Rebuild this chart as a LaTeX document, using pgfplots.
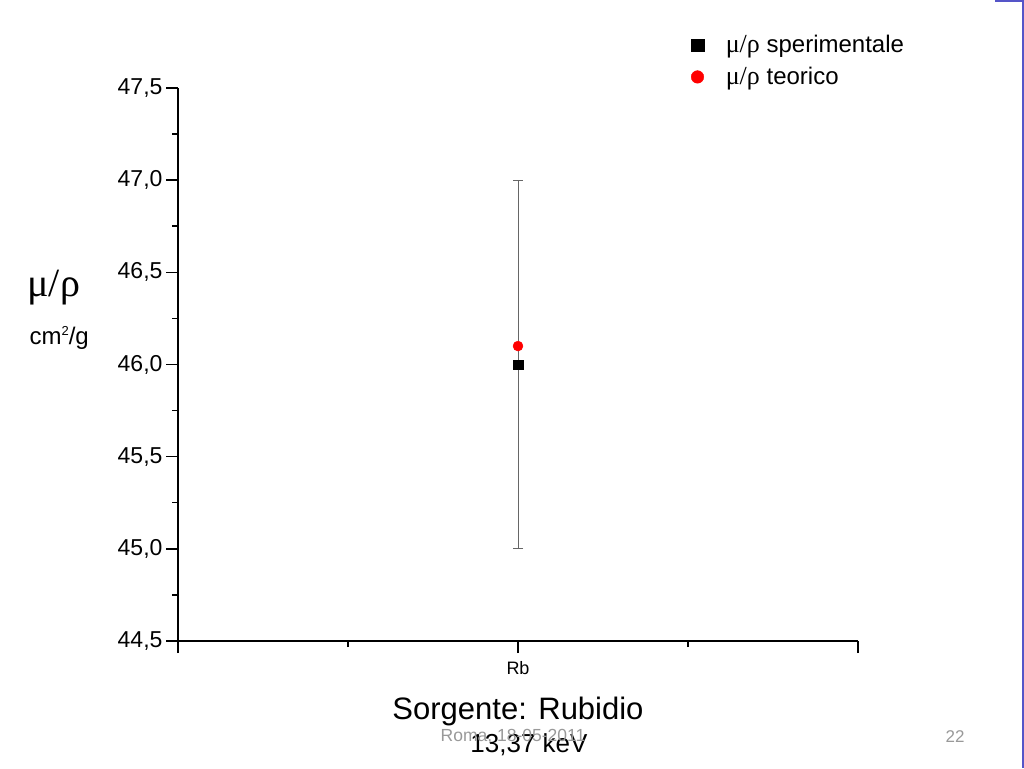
\documentclass[border=0pt]{standalone}
\usepackage{pgfplots}
\pgfplotsset{compat=1.18}
\usepackage{fontspec}
\setmainfont{Liberation Sans}
\newfontfamily\grk{Liberation Serif}
\definecolor{slideblue}{RGB}{85,85,200}
\begin{document}
\begin{tikzpicture}[x=1pt,y=1pt]
\useasboundingbox (0,0) rectangle (1024,768);
\fill[white] (0,0) rectangle (1024,768);
\begin{axis}[
  at={(178pt,127pt)}, anchor=south west,
  scale only axis, width=680pt, height=553pt,
  axis x line=bottom, axis y line=left,
  axis line style={-, line width=1.8pt},
  xmin=-2, xmax=2, ymin=44.5, ymax=47.5,
  xtick={-2,0,2}, xticklabels={{},Rb,{}},
  minor xtick={-1,1},
  ytick={44.5,45,...,47.5}, minor ytick={44.75,45.25,...,47.25},
  tick align=outside,
  major tick length=12pt, minor tick length=6pt,
  every tick/.style={black, line width=1.5pt},
  tick style={black, line width=1.5pt},
  /pgf/number format/assume math mode=true,
  /pgf/number format/use comma,
  /pgf/number format/fixed,
  /pgf/number format/fixed zerofill,
  /pgf/number format/precision=1,
  yticklabel style={font=\fontsize{23}{25}\selectfont, xshift=0pt},
  xticklabel style={font=\fontsize{18}{20}\selectfont, yshift=-5pt},
  clip=false,
  legend style={at={(688pt-178pt,768pt-127pt-61pt)}, anchor=west, draw=none, fill=none,
    font=\fontsize{24}{26}\selectfont, row sep=9pt,
    /tikz/every odd column/.append style={column sep=20pt}},
  legend cell align=left,
  legend image code/.code={\draw[#1, mark size=6.3pt] plot coordinates {(0cm,0cm)};},
]
\addplot[only marks, mark=square*, mark size=4.7pt, black,
  error bars/.cd, y dir=both, y explicit,
  error bar style={gray!80!black, line width=0.8pt},
  error mark options={rotate=90, mark size=5pt, gray!80!black, line width=0.8pt}]
  coordinates {(0,46.0) +- (0,1.0)};
\addlegendentry{{\grk\fontsize{26}{28}\selectfont μ/ρ} sperimentale}
\addplot[only marks, mark=*, mark size=5pt, red, draw=red, fill=red]
  coordinates {(0,46.1)};
\addlegendentry{{\grk\fontsize{26}{28}\selectfont μ/ρ} teorico}
\end{axis}
\node[anchor=west, font=\grk\fontsize{40}{42}\selectfont] at (24,768-288) {μ/ρ};
\node[anchor=west, font=\fontsize{24}{26}\selectfont] at (26,768-338) {cm\raisebox{0.75ex}{\fontsize{13}{14}\selectfont 2}/g};
\node[font=\fontsize{31}{33}\selectfont] at (518,768-711) {Sorgente: Rubidio};
\node[font=\fontsize{26}{28}\selectfont] at (529,768-745) {13,37 keV};
\node[font=\fontsize{17.5}{19}\selectfont, text=gray!80] at (513,768-737) {Roma, 18-05-2011};
\node[font=\fontsize{17}{19}\selectfont, text=gray!80] at (955,768-737) {22};
\draw[slideblue, line width=2pt] (995,767) -- (1022.5,767) -- (1022.5,0);
\end{tikzpicture}
\end{document}
